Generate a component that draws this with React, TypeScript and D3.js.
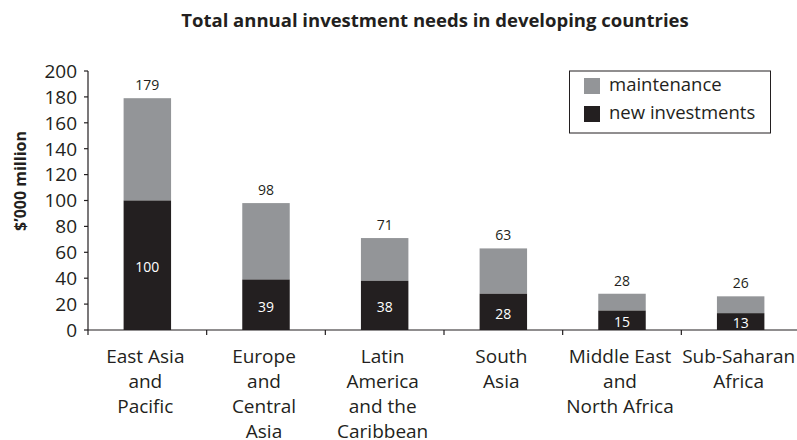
import * as d3 from "d3";

const categories = [
  ["East Asia", "and", "Pacific"],
  ["Europe", "and", "Central", "Asia"],
  ["Latin", "America", "and the", "Caribbean"],
  ["South", "Asia"],
  ["Middle East", "and", "North Africa"],
  ["Sub-Saharan", "Africa"],
];
const newInvestments = [100, 39, 38, 28, 15, 13];
const totals = [179, 98, 71, 63, 28, 26];
const yTicks = [0, 20, 40, 60, 80, 100, 120, 140, 160, 180, 200];

const W = 797;
const H = 440;
const left = 88;
const right = 800;
const top = 71;
const bottom = 330;
const FONT = "'Open Sans', 'DejaVu Sans', sans-serif";
const GREY = "#939598";
const BLACK = "#231f20";

export default function App() {
  const x = d3
    .scaleBand<number>()
    .domain(d3.range(categories.length))
    .range([left, right])
    .paddingInner(0.6)
    .paddingOuter(0.3);
  const band = d3.scaleBand<number>().domain(d3.range(categories.length)).range([left, right]);
  const y = d3.scaleLinear().domain([0, 200]).range([bottom, top]);

  return (
    <svg width={W} height={H} style={{ position: "absolute", left: 0, top: 0, background: "#fff" }} fontFamily={FONT}>
      <text x={435} y={27} textAnchor="middle" fontSize={18.5} fontWeight="bold" fill={BLACK}>
        Total annual investment needs in developing countries
      </text>
      <text
        transform={`translate(26,181) rotate(-90)`}
        textAnchor="middle"
        fontSize={16}
        fontWeight="bold"
        fill={BLACK}
      >
        $’000 million
      </text>

      {/* y axis */}
      <line x1={left} x2={left} y1={top} y2={bottom} stroke={BLACK} strokeWidth={1.2} />
      {yTicks.map((t) => (
        <g key={t}>
          <line x1={left - 4} x2={left} y1={y(t)} y2={y(t)} stroke={BLACK} strokeWidth={1.2} />
          <text x={left - 11} y={y(t)} dy="0.36em" textAnchor="end" fontSize={19} fill={BLACK}>
            {t}
          </text>
        </g>
      ))}

      {/* bars */}
      {totals.map((tot, i) => {
        const ni = newInvestments[i];
        const bx = x(i)!;
        const bw = x.bandwidth();
        const cx = bx + bw / 2;
        return (
          <g key={i}>
            <rect x={bx} y={y(tot)} width={bw} height={y(ni) - y(tot)} fill={GREY} />
            <rect x={bx} y={y(ni)} width={bw} height={y(0) - y(ni)} fill={BLACK} />
            <text x={cx} y={y(tot) - 8} textAnchor="middle" fontSize={14} fill={BLACK}>
              {tot}
            </text>
            <text x={cx} y={(y(ni) + y(0)) / 2 + 2} dy="0.35em" textAnchor="middle" fontSize={14} fill="#fff">
              {ni}
            </text>
          </g>
        );
      })}

      {/* x axis */}
      <line x1={left} x2={W} y1={bottom} y2={bottom} stroke={BLACK} strokeWidth={1.2} />
      {categories.map((lines, i) => (
        <g key={i}>
          <line x1={band(i)!} x2={band(i)!} y1={bottom} y2={bottom + 5} stroke={BLACK} strokeWidth={1.2} />
          {lines.map((l, j) => (
            <text
              key={j}
              x={band(i)! + band.bandwidth() / 2 - 2}
              y={363 + j * 25}
              textAnchor="middle"
              fontSize={19}
              fill={BLACK}
            >
              {l}
            </text>
          ))}
        </g>
      ))}

      {/* legend */}
      <rect x={569.5} y={71} width={201} height={62} fill="#fff" stroke={BLACK} strokeWidth={1} />
      <rect x={584} y={78} width={16} height={16} fill={GREY} />
      <rect x={584} y={106} width={16} height={16} fill={BLACK} />
      <text x={609} y={91} fontSize={18.5} fill={BLACK}>
        maintenance
      </text>
      <text x={609} y={119} fontSize={18.5} fill={BLACK}>
        new investments
      </text>
    </svg>
  );
}
